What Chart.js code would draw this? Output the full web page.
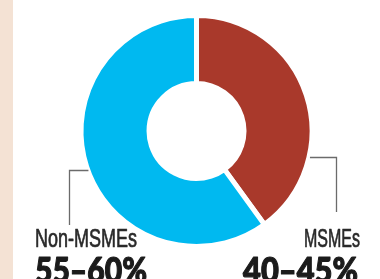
<!DOCTYPE html>
<html>
<head>
<meta charset="utf-8">
<script src="https://cdn.jsdelivr.net/npm/chart.js@4.4.0/dist/chart.umd.min.js"></script>
<style>
  html, body { margin: 0; padding: 0; background: #ffffff; }
  #wrap { position: relative; width: 380px; height: 279px; overflow: hidden; }
  #strip { position: absolute; left: 0; top: 0; width: 13px; height: 279px; background: #F4E2D4; }
  canvas { position: absolute; left: 0; top: 0; }
</style>
</head>
<body>
<div id="wrap">
  <div id="strip"></div>
  <canvas id="c" width="380" height="279"></canvas>
</div>
<script>
// ---- data ----
const categories = ["MSMEs", "Non-MSMEs"];
const shareValues = [40, 60];
const rangeLabels = ["40–45%", "55–60%"];
const sliceColors = ["#A9392B", "#00B9F0"];

const labelPlugin = {
  id: "leaderLabels",
  afterDatasetsDraw(chart) {
    const ctx = chart.ctx;
    const meta = chart.getDatasetMeta(0);
    const arc0 = meta.data[0];
    const cx = arc0.x, cy = arc0.y;
    const R = arc0.outerRadius - 2.5; // visible outer edge
    ctx.save();
    ctx.strokeStyle = "#6b6b6b";
    ctx.lineWidth = 1.3;
    // MSMEs (right side)
    {
      const dy = 26, gap = 3.5;
      const x0 = cx + Math.sqrt(R * R - dy * dy) + gap;
      const y0 = cy + dy;
      const x1 = 336.5;
      ctx.beginPath();
      ctx.moveTo(x0, y0 + 0.5);
      ctx.lineTo(x1, y0 + 0.5);
      ctx.lineTo(x1, 212);
      ctx.stroke();
    }
    // Non-MSMEs (left side)
    {
      const dy = 39, gap = 2;
      const x0 = cx - Math.sqrt(R * R - dy * dy) - gap;
      const y0 = cy + dy;
      const x1 = 69.5;
      ctx.beginPath();
      ctx.moveTo(x0, y0 + 0.5);
      ctx.lineTo(x1, y0 + 0.5);
      ctx.lineTo(x1, 225);
      ctx.stroke();
    }
    // texts
    ctx.fillStyle = "#2a2a2a";
    ctx.strokeStyle = "#2a2a2a";
    ctx.lineWidth = 0.7;
    ctx.lineJoin = "round";
    ctx.textBaseline = "alphabetic";
    ctx.font = "25px 'Liberation Sans Narrow', 'Liberation Sans', sans-serif";
    ctx.textAlign = "left";
    ctx.fillText(categories[1], 35, 247, 102);
    ctx.strokeText(categories[1], 35, 247, 102);
    ctx.textAlign = "right";
    ctx.fillText(categories[0], 360, 247, 56);
    ctx.strokeText(categories[0], 360, 247, 56);

    ctx.fillStyle = "#1b1b1b";
    ctx.strokeStyle = "#1b1b1b";
    ctx.lineWidth = 1.2;
    ctx.font = "900 36px Lato, 'Liberation Sans Narrow', sans-serif";
    ctx.textAlign = "left";
    ctx.fillText(rangeLabels[1], 35, 283, 112);
    ctx.strokeText(rangeLabels[1], 35, 283, 112);
    ctx.textAlign = "right";
    ctx.fillText(rangeLabels[0], 358, 283, 115);
    ctx.strokeText(rangeLabels[0], 358, 283, 115);
    ctx.restore();
  }
};

new Chart(document.getElementById("c"), {
  type: "doughnut",
  data: {
    labels: categories,
    datasets: [{
      data: shareValues,
      backgroundColor: sliceColors,
      borderColor: "#ffffff",
      borderWidth: 5,
      hoverOffset: 0,
      offset: 0
    }]
  },
  options: {
    responsive: false,
    animation: false,
    radius: 115.5,
    cutout: "41.1%",
    layout: { padding: { left: 76.5, right: 63.5, top: 11, bottom: 28 } },
    plugins: {
      legend: { display: false },
      tooltip: { enabled: false }
    },
    events: []
  },
  plugins: [labelPlugin]
});
</script>
</body>
</html>
